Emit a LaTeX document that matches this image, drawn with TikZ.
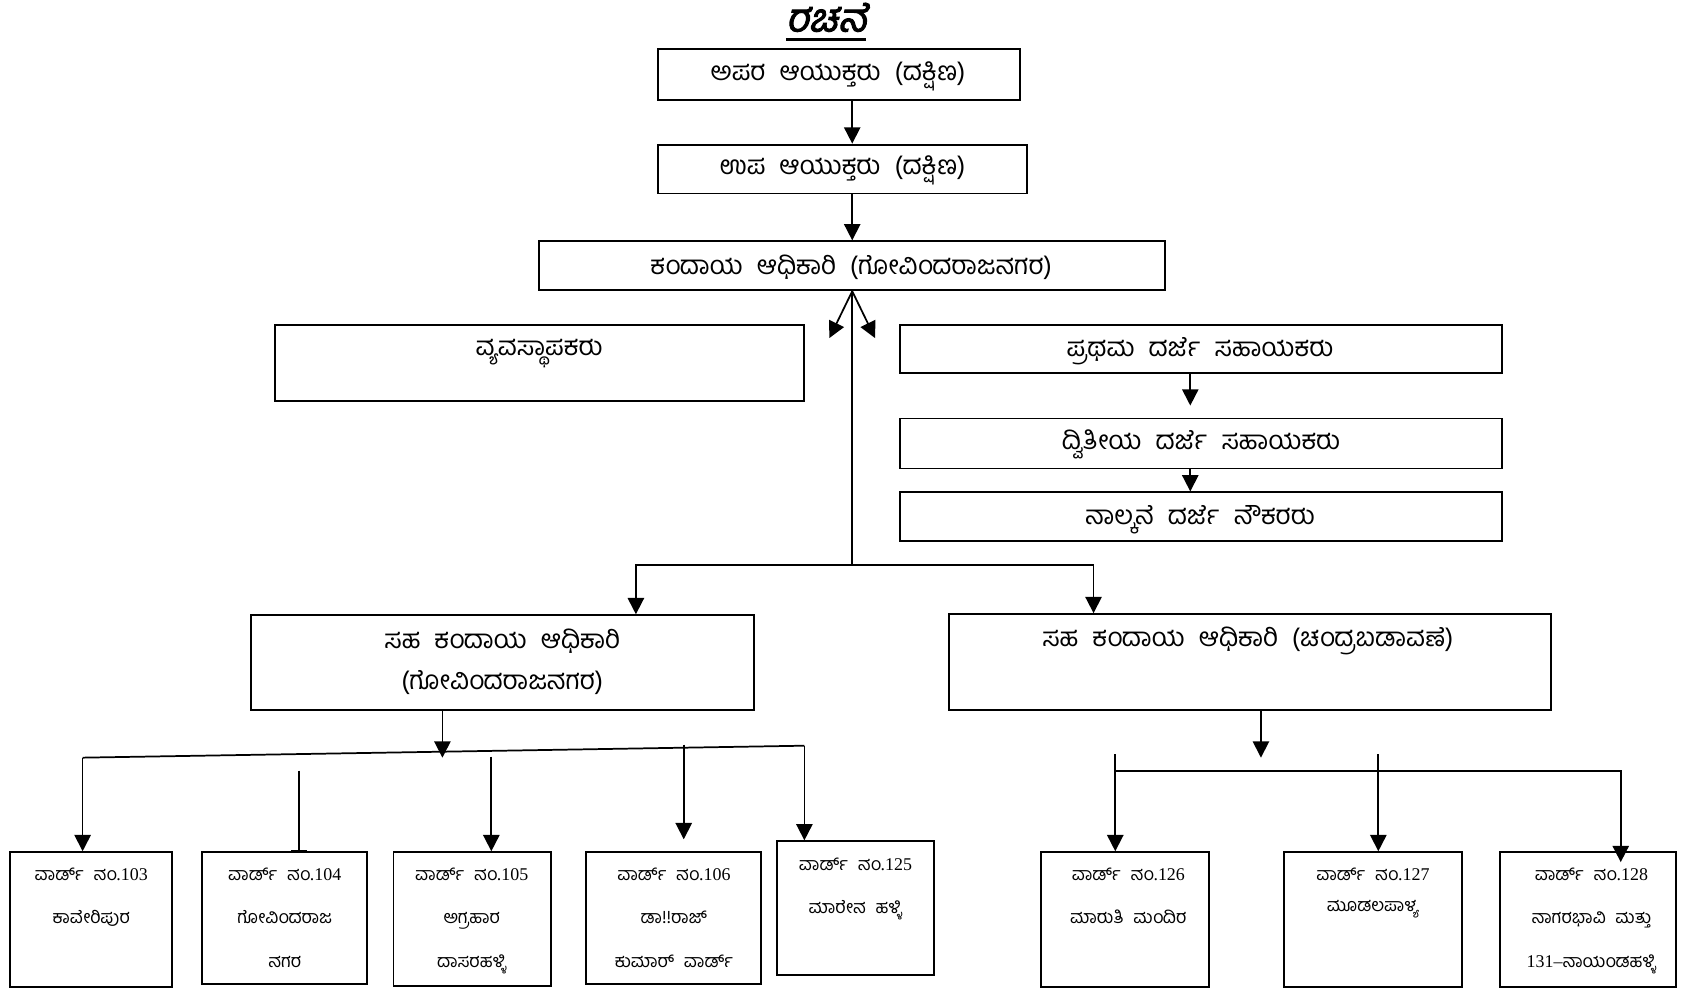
\documentclass[tikz,border=0pt]{standalone}
\usepackage{fontspec}
\setmainfont{Liberation Serif}
\newfontfamily\kn[Script=Kannada,WordSpace=2.2]{Hind Mysuru}
\newfontfamily\kntitle[Script=Kannada,FakeSlant=0.22,FakeBold=2.5]{Hind Mysuru}
\usetikzlibrary{arrows.meta,fit}
\begin{document}
\begin{tikzpicture}[x=1pt,y=-1pt,
  box/.style={draw,line width=1.8pt,inner sep=0pt},
  con/.style={line width=1.6pt},
  arr/.style={con,-{Triangle[width=15pt,length=15pt]}},
  txt/.style={inner sep=0pt,font=\kn\fontsize{24}{28}\selectfont},
  wtxt/.style={inner sep=0pt,anchor=north,align=center,font=\kn\fontsize{16.5}{40}\selectfont}]
\useasboundingbox (0,0) rectangle (1563,908);
% title
\node[inner sep=0pt,font=\kntitle\fontsize{36}{40}\selectfont] (title) at (760,16) {ರಚನೆ};
\coordinate (ul) at (0,36);
\draw[line width=3pt] (title.west |- ul) -- (title.east |- ul);
% boxes
\node[box,fit={(605,45) (938,92)}] (b1) {};
\node[box,fit={(605,133) (945,178)}] (b2) {};
\node[box,fit={(496,222) (1072,267)}] (b3) {};
\node[box,fit={(253,299) (740,369)}] (b4) {};
\node[box,fit={(828,299) (1382,343)}] (b5) {};
\node[box,fit={(828,385) (1382,431)}] (b6) {};
\node[box,fit={(828,453) (1382,498)}] (b7) {};
\node[box,fit={(231,566) (694,653)}] (b8) {};
\node[box,fit={(873,565) (1427,653)}] (b9) {};
\node[box,fit={(9,784) (158,908)}] (w103) {};
\node[box,fit={(186,784) (338,905)}] (w104) {};
\node[box,fit={(362,784) (507,907)}] (w105) {};
\node[box,fit={(539,784) (700,905)}] (w106) {};
\node[box,fit={(715,774) (859,897)}] (w125) {};
\node[box,fit={(958,784) (1112,908)}] (w126) {};
\node[box,fit={(1181,784) (1345,908)}] (w127) {};
\node[box,fit={(1380,784) (1542,908)}] (w128) {};
% texts
\node[txt] (t1) at (771,70) {ಅಪರ ಆಯುಕ್ತರು (ದಕ್ಷಿಣ)};
\node[txt] (t2) at (775,157) {ಉಪ ಆಯುಕ್ತರು (ದಕ್ಷಿಣ)};
\node[txt] (t3) at (783,246) {ಕಂದಾಯ ಆಧಿಕಾರಿ (ಗೋವಿಂದರಾಜನಗರ)};
\node[txt] (t4) at (496,325) {ವ್ಯವಸ್ಥಾಪಕರು};
\node[txt] (t5) at (1104,323) {ಪ್ರಥಮ ದರ್ಜೆ ಸಹಾಯಕರು};
\node[txt] (t6) at (1105,409) {ದ್ವಿತೀಯ ದರ್ಜೆ ಸಹಾಯಕರು};
\node[txt] (t7) at (1104,478) {ನಾಲ್ಕನೆ ದರ್ಜೆ ನೌಕರರು};
\node[txt,align=center,font=\kn\fontsize{24}{38}\selectfont,anchor=north] (t8) at (462,578) {ಸಹ ಕಂದಾಯ ಆಧಿಕಾರಿ\\(ಗೋವಿಂದರಾಜನಗರ)};
\node[txt] (t9) at (1148,590) {ಸಹ ಕಂದಾಯ ಆಧಿಕಾರಿ (ಚಂದ್ರಬಡಾವಣೆ)};
\node[wtxt] (x103) at (84,798) {ವಾರ್ಡ್ ನಂ{\rmfamily .103}\\ಕಾವೇರಿಪುರ};
\node[wtxt] (x104) at (262,798) {ವಾರ್ಡ್ ನಂ{\rmfamily .104}\\ಗೋವಿಂದರಾಜ\\ನಗರ};
\node[wtxt] (x105) at (434,798) {ವಾರ್ಡ್ ನಂ{\rmfamily .105}\\ಅಗ್ರಹಾರ\\ದಾಸರಹಳ್ಳಿ};
\node[wtxt] (x106) at (620,798) {ವಾರ್ಡ್ ನಂ{\rmfamily .106}\\ಡಾ!!ರಾಜ್\\ಕುಮಾರ್ ವಾರ್ಡ್};
\node[wtxt] (x125) at (787,789) {ವಾರ್ಡ್ ನಂ{\rmfamily .125}\\ಮಾರೇನ ಹಳ್ಳಿ};
\node[wtxt] (x126) at (1038,798) {ವಾರ್ಡ್ ನಂ{\rmfamily .126}\\ಮಾರುತಿ ಮಂದಿರ};
\node[wtxt] (x127) at (1263,798) {ವಾರ್ಡ್ ನಂ{\rmfamily .127}\\[-11pt]ಮೂಡಲಪಾಳ್ಯ};
\node[wtxt] (x128) at (1464,798) {ವಾರ್ಡ್ ನಂ{\rmfamily .128}\\ನಾಗರಭಾವಿ ಮತ್ತು\\{\rmfamily 131–}ನಾಯಂಡಹಳ್ಳಿ};
% connectors top
\coordinate (ax) at (784,0);
\draw[arr] (ax |- b1.south) -- (ax |- b2.north);
\draw[arr] (ax |- b2.south) -- (ax |- b3.north);
\coordinate (dl) at (763,311);
\coordinate (dr) at (805,311);
\draw[arr] (ax |- b3.south) -- (dl);
\draw[arr] (ax |- b3.south) -- (dr);
\coordinate (j1) at (784,520);
\coordinate (l1) at (585,520);
\coordinate (r1) at (1006,520);
\draw[con] (ax |- b3.south) -- (j1);
\draw[arr] (j1) -- (l1) -- (l1 |- b8.north);
\draw[arr] (j1) -- (r1) -- (r1 |- b9.north);
\coordinate (ax2) at (1095,0);
\draw[arr] (ax2 |- b5.south) -- ([yshift=11pt]ax2 |- b6.north);
\draw[arr] (ax2 |- b6.south) -- (ax2 |- b7.north);
% left group
\coordinate (sL) at (76,697);
\coordinate (sR) at (740,686);
\coordinate (t8p) at (407,697);
\draw[con] (sL) -- (sR);
\draw[arr] (t8p |- b8.south) -- (t8p);
\draw[arr] (sL) -- (sL |- w103.north);
\coordinate (s104) at (275,709);
\draw[con,-{Bar[width=14pt]}] (s104) -- (s104 |- w104.north);
\coordinate (s105) at (452,696);
\draw[arr] (s105) -- (s105 |- w105.north);
\coordinate (s106) at (629,685);
\draw[arr] (s106) -- ([yshift=11pt]s106 |- w106.north);
\draw[arr] (sR) -- (sR |- w125.north);
% right group
\coordinate (t9p) at (1160,697);
\draw[arr] (t9p |- b9.south) -- (t9p);
\coordinate (h1) at (1026,709);
\coordinate (h3) at (1491,709);
\draw[arr] (h1) -- (h3) -- ([yshift=-10pt]h3 |- w128.north);
\coordinate (s126) at (1026,694);
\draw[arr] (s126) -- (s126 |- w126.north);
\coordinate (s127) at (1268,694);
\draw[arr] (s127) -- (s127 |- w127.north);
\end{tikzpicture}
\end{document}
